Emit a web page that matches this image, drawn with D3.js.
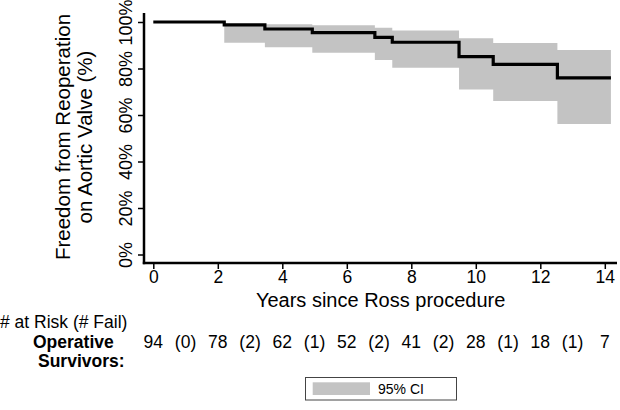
<!DOCTYPE html>
<html>
<head>
<meta charset="utf-8">
<script src="https://cdn.jsdelivr.net/npm/d3@7"></script>
<style>
  html, body { margin: 0; padding: 0; background: #fff; }
  svg { display: block; font-family: "Liberation Sans", Arial, Helvetica, sans-serif; }
</style>
</head>
<body>
<svg id="chart" width="620" height="410"></svg>
<script>
// Kaplan-Meier estimate (step times in years, survival fraction)
const times = [0, 2.2, 3.46, 4.93, 6.87, 7.41, 9.48, 10.54, 12.53, 14.19];
const surv  = [1.0, 0.988, 0.970, 0.954, 0.934, 0.913, 0.851, 0.818, 0.760, 0.760];
const upper = [1.0, 0.990, 0.990, 0.986, 0.975, 0.963, 0.930, 0.910, 0.880, 0.880];
const lower = [1.0, 0.911, 0.891, 0.868, 0.837, 0.803, 0.710, 0.660, 0.561, 0.561];

// x and y ticks
const xTicks = [0, 2, 4, 6, 8, 10, 12, 14];
const yTicks = [0, 0.2, 0.4, 0.6, 0.8, 1.0];

// number-at-risk table
const riskYears = [0, 2, 4, 6, 8, 10, 12, 14];
const atRisk = [94, 78, 62, 52, 41, 28, 18, 7];
const failYears = [1, 3, 5, 7, 9, 11, 13];
const fails = [0, 2, 1, 2, 2, 1, 1];

const svg = d3.select("#chart");
const x = d3.scaleLinear().domain([0, 14]).range([153.3, 604.8]);
const y = d3.scaleLinear().domain([0, 1]).range([254.5, 22]);

const axisX = 144, axisY = 263;

// CI band
const bandData = times.map((t, i) => ({t, lo: lower[i], hi: upper[i]}));
svg.append("path")
  .datum(bandData)
  .attr("fill", "#c3c3c3")
  .attr("d", d3.area().curve(d3.curveStepAfter)
    .x(d => x(d.t)).y0(d => y(d.lo)).y1(d => y(d.hi)));

// KM line
const lineData = times.map((t, i) => ({t, s: surv[i]}));
svg.append("path")
  .datum(lineData)
  .attr("fill", "none")
  .attr("stroke", "#000")
  .attr("stroke-width", 3.2)
  .attr("d", d3.line().curve(d3.curveStepAfter).x(d => x(d.t)).y(d => y(d.s)));

// Y axis
const yAxis = d3.axisLeft(y).tickValues(yTicks).tickFormat(d3.format(".0%")).tickSize(6).tickSizeOuter(0);
const gy = svg.append("g").attr("transform", `translate(${axisX},0)`).call(yAxis);
gy.select(".domain").remove();
gy.selectAll(".tick line").attr("stroke", "#000").attr("stroke-width", 1.5);
gy.selectAll(".tick text")
  .attr("font-size", 18).attr("fill", "#000")
  .attr("x", null).attr("dy", null)
  .attr("text-anchor", "middle")
  .attr("transform", "translate(-12,0) rotate(-90)");
svg.append("line").attr("x1", axisX).attr("x2", axisX).attr("y1", 13).attr("y2", axisY + 1.2)
  .attr("stroke", "#000").attr("stroke-width", 2.5);

// X axis
const xAxis = d3.axisBottom(x).tickValues(xTicks).tickSize(6).tickSizeOuter(0);
const gx = svg.append("g").attr("transform", `translate(0,${axisY})`).call(xAxis);
gx.select(".domain").remove();
gx.selectAll(".tick line").attr("stroke", "#000").attr("stroke-width", 1.5);
gx.selectAll(".tick text").attr("font-size", 17.5).attr("fill", "#000").attr("y", 8).attr("dy", "0.71em");
svg.append("line").attr("x1", axisX - 1.2).attr("x2", 617).attr("y1", axisY).attr("y2", axisY)
  .attr("stroke", "#000").attr("stroke-width", 2.5);

// Axis titles
svg.append("text").attr("x", x(7.05)).attr("y", 306.5).attr("text-anchor", "middle")
  .attr("font-size", 20).text("Years since Ross procedure");
const yt = svg.append("text").attr("transform", "translate(0,137) rotate(-90)")
  .attr("text-anchor", "middle").attr("font-size", 20.5);
yt.append("tspan").attr("x", 0).attr("y", 70).text("Freedom from Reoperation");
yt.append("tspan").attr("x", 0).attr("y", 92).text("on Aortic Valve (%)");

// Risk table
svg.append("text").attr("x", 0).attr("y", 328).attr("font-size", 17.5).text("# at Risk (# Fail)");
svg.append("text").attr("x", 33).attr("y", 348).attr("font-size", 17.5).attr("font-weight", "bold").text("Operative");
svg.append("text").attr("x", 38).attr("y", 367).attr("font-size", 17.5).attr("font-weight", "bold").text("Survivors:");
svg.selectAll("text.risk").data(atRisk).enter().append("text").attr("class", "risk")
  .attr("x", (d, i) => x(riskYears[i])).attr("y", 348).attr("text-anchor", "middle")
  .attr("font-size", 17.5).text(d => d);
svg.selectAll("text.fail").data(fails).enter().append("text").attr("class", "fail")
  .attr("x", (d, i) => x(failYears[i])).attr("y", 348).attr("text-anchor", "middle")
  .attr("font-size", 17.5).text(d => `(${d})`);

// Legend
const lg = svg.append("g");
lg.append("rect").attr("x", 305.5).attr("y", 377.5).attr("width", 151).attr("height", 22.5)
  .attr("fill", "#fff").attr("stroke", "#444").attr("stroke-width", 1);
lg.append("rect").attr("x", 312.7).attr("y", 382.3).attr("width", 57.3).attr("height", 12.7).attr("fill", "#c3c3c3");
lg.append("text").attr("x", 378).attr("y", 394).attr("font-size", 14).text("95% CI");
</script>
</body>
</html>
